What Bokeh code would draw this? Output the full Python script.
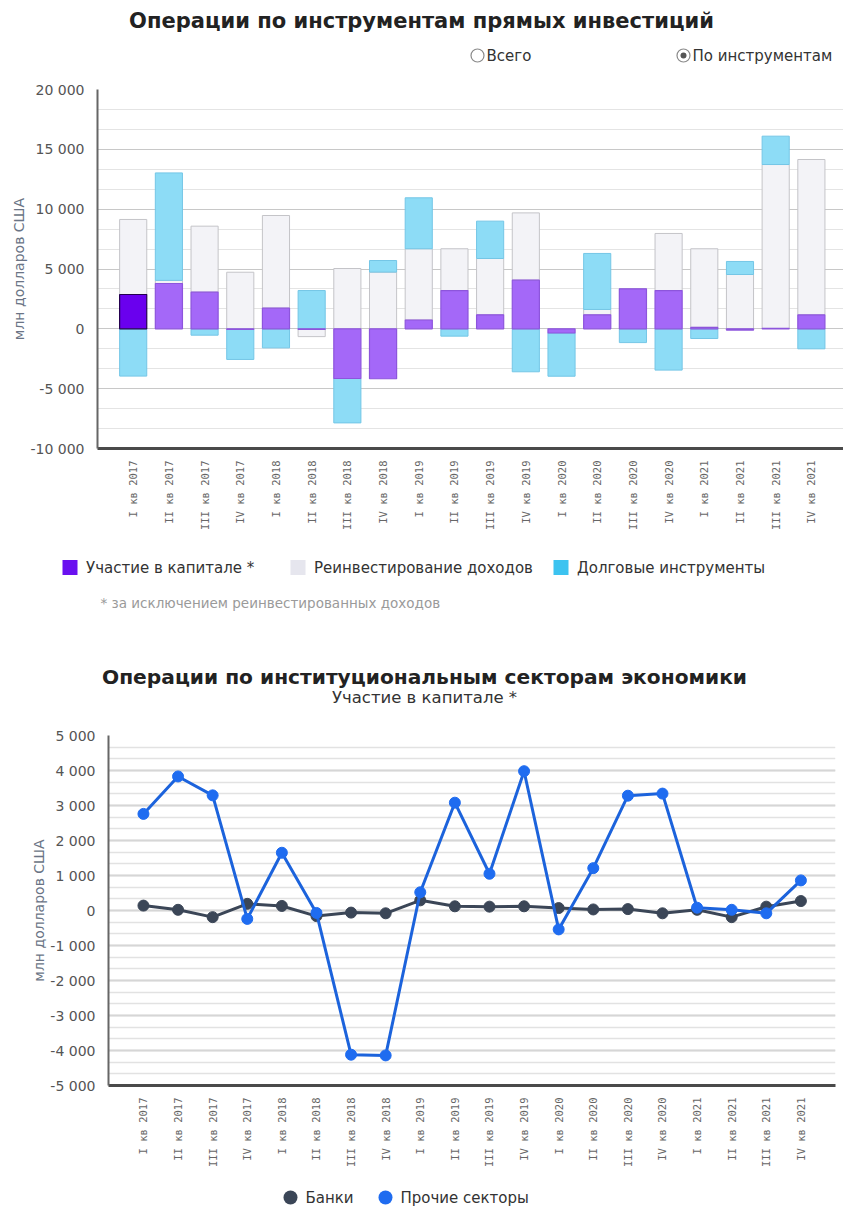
import math
from bokeh.plotting import figure
from bokeh.models import (Range1d, FixedTicker, CustomJSTickFormatter, ColumnDataSource)
from bokeh.layouts import column
from bokeh.embed import file_html
from bokeh.resources import INLINE
from bokeh.core.properties import value

# ---------------- data ----------------
quarters = ["I кв 2017", "II кв 2017", "III кв 2017", "IV кв 2017",
            "I кв 2018", "II кв 2018", "III кв 2018", "IV кв 2018",
            "I кв 2019", "II кв 2019", "III кв 2019", "IV кв 2019",
            "I кв 2020", "II кв 2020", "III кв 2020", "IV кв 2020",
            "I кв 2021", "II кв 2021", "III кв 2021", "IV кв 2021"]

equity = [2870, 3790, 3060, -50, 1730, -50, -4150, -4170, 740, 3200,
          1170, 4070, -350, 1170, 3340, 3200, 120, -100, 30, 1160]
reinvested = [6270, 260, 5520, 4730, 7740, -600, 5040, 4740, 5950, 3490,
              4710, 5620, 0, 450, 0, 4770, 6570, 4540, 13700, 12990]
debt = [-3950, 8980, -530, -2510, -1590, 3200, -3710, 970, 4260, -610,
        3120, -3590, -3610, 4680, -1150, -3450, -810, 1090, 2370, -1670]

banks = [140, 20, -190, 190, 130, -160, -60, -80, 290, 120,
         110, 120, 70, 30, 40, -80, 20, -190, 110, 270]
others = [2760, 3830, 3290, -240, 1650, -70, -4120, -4140, 520, 3080,
          1050, 3980, -540, 1210, 3280, 3340, 80, 20, -80, 860]

series_names = ["Участие в капитале *", "Реинвестирование доходов", "Долговые инструменты"]
line_names = ["Банки", "Прочие секторы"]
radio_labels = ["Всего", "По инструментам"]
title1 = "Операции по инструментам прямых инвестиций"
title2 = "Операции по институциональным секторам экономики"
subtitle2 = "Участие в капитале *"
footnote = "* за исключением реинвестированных доходов"
y_title = "млн долларов США"

FONT = "DejaVu Sans"
PAGE_W = 843
fmt = CustomJSTickFormatter(code="""
const s = Math.abs(tick).toFixed(0).replace(/\\B(?=(\\d{3})+(?!\\d))/g, ' ');
return (tick < 0 ? '-' : '') + s;
""")

xs = list(range(len(quarters)))


def blank_fig(h):
    """Figure without axes whose data space is page pixels (y downwards)."""
    p = figure(width=PAGE_W, height=h, x_range=Range1d(0, PAGE_W), y_range=Range1d(h, 0),
               output_backend="svg", toolbar_location=None, frame_align=False,
               x_axis_location=None, y_axis_location=None,
               min_border_left=0, min_border_right=0, min_border_top=0, min_border_bottom=0)
    p.grid.visible = False
    p.outline_line_color = None
    return p


def put_text(p, x, y, text, size, align="left", bold=False, color="#333333"):
    p.text(x=[x], y=[y], text=[text], text_font=value(FONT), text_font_size=value(size),
           text_font_style="bold" if bold else "normal", text_align=align,
           text_baseline="middle", text_color=color)


def style_axes(p, yticks, yminor, y_title_standoff):
    p.xaxis.ticker = FixedTicker(ticks=xs)
    p.xaxis.major_label_overrides = {i: q for i, q in zip(xs, quarters)}
    p.xaxis.major_label_orientation = math.pi / 2
    p.xaxis.major_label_text_font = "DejaVu Sans Mono"
    p.xaxis.major_label_text_font_size = "10.5px"
    p.xaxis.major_label_text_color = "#666666"
    p.xaxis.major_tick_line_color = None
    p.xaxis.minor_tick_line_color = None
    p.xaxis.axis_line_color = "#4a4a4a"
    p.xaxis.axis_line_width = 3
    p.xaxis.major_label_standoff = 6

    p.yaxis.ticker = FixedTicker(ticks=yticks, minor_ticks=yminor)
    p.yaxis.formatter = fmt
    p.yaxis.major_label_text_font = FONT
    p.yaxis.major_label_text_font_size = "14px"
    p.yaxis.major_label_text_color = "#555555"
    p.yaxis.major_tick_line_color = None
    p.yaxis.minor_tick_line_color = None
    p.yaxis.axis_line_color = "#666666"
    p.yaxis.axis_line_width = 2
    p.yaxis.major_label_standoff = 7
    p.yaxis.axis_label = y_title
    p.yaxis.axis_label_text_font = FONT
    p.yaxis.axis_label_text_font_style = "normal"
    p.yaxis.axis_label_text_font_size = "14px"
    p.yaxis.axis_label_text_color = "#6a7485"
    p.yaxis.axis_label_standoff = y_title_standoff
    p.xgrid.grid_line_color = None
    p.outline_line_color = None


# ---------------- header of chart 1 (page y 0..80) ----------------
head1 = blank_fig(80)
put_text(head1, 421, 20, title1, "21px", align="center", bold=True, color="#222222")
head1.scatter(x=[477, 683], y=[55, 55], size=13, marker="circle",
              fill_color="white", line_color="#8a8a8a", line_width=1.2)
head1.scatter(x=[683], y=[55], size=6, marker="circle", fill_color="#555555", line_color=None)
put_text(head1, 486, 55, radio_labels[0], "15px")
put_text(head1, 692, 55, radio_labels[1], "15px")

# ---------------- chart 1: stacked bars (page y 80..548) ----------------
X0, X1 = -1.0, 19.9
p1 = figure(width=PAGE_W, height=468, x_range=Range1d(X0, X1), y_range=Range1d(-10000, 20000),
            output_backend="svg", toolbar_location=None, frame_align=False,
            min_border_left=97, min_border_right=0, min_border_top=9, min_border_bottom=100)
style_axes(p1, list(range(-10000, 20001, 5000)),
           [-10000 + k * 5000 / 3 for k in range(19)], 0)
p1.ygrid.grid_line_color = "#c8c8c8"
p1.ygrid.grid_line_width = 1
p1.ygrid.minor_grid_line_color = "#e4e4e4"
p1.ygrid.minor_grid_line_width = 1

pos = [0.0] * len(xs)
neg = [0.0] * len(xs)
stacks = []
for vals in (equity, reinvested, debt):
    bot, top = [], []
    for i, v in enumerate(vals):
        if v >= 0:
            bot.append(pos[i]); top.append(pos[i] + v); pos[i] += v
        else:
            top.append(neg[i]); bot.append(neg[i] + v); neg[i] += v
    stacks.append((bot, top))

W = 0.76
eq_fill = ["#6a00ee"] + ["#a468f8"] * (len(xs) - 1)
eq_line = ["#24004f"] + ["#8d55dc"] * (len(xs) - 1)
src_eq = ColumnDataSource(dict(x=xs, bottom=stacks[0][0], top=stacks[0][1], fc=eq_fill, lc=eq_line))
src_re = ColumnDataSource(dict(x=xs, bottom=stacks[1][0], top=stacks[1][1]))
src_de = ColumnDataSource(dict(x=xs, bottom=stacks[2][0], top=stacks[2][1]))

p1.vbar(x="x", bottom="bottom", top="top", width=W, source=src_re,
        fill_color="#f3f3f7", line_color="#c4c4c8", line_width=1)
p1.vbar(x="x", bottom="bottom", top="top", width=W, source=src_de,
        fill_color="#8ddcf6", line_color="#74c6e6", line_width=1)
p1.vbar(x="x", bottom="bottom", top="top", width=W, source=src_eq,
        fill_color="fc", line_color="lc", line_width=1.2)

# ---------------- middle block (page y 548..726) ----------------
MID_H = 178
TOP_MID = 548
mid = blank_fig(MID_H)
leg_colors = ["#6a10f0", "#e6e6ee", "#3cc3f0"]
leg_x = [69.5, 297.5, 560.5]
ly = 567 - TOP_MID
mid.rect(x=leg_x, y=[ly] * 3, width=15, height=15, fill_color=leg_colors, line_color=None)
for name, lx in zip(series_names, leg_x):
    put_text(mid, lx + 16, ly, name, "15px")
put_text(mid, 100, 602 - TOP_MID, footnote, "13.5px", color="#9a9a9a")
put_text(mid, 424, 676 - TOP_MID, title2, "20.2px", align="center", bold=True, color="#222222")
put_text(mid, 424, 697 - TOP_MID, subtitle2, "16.5px", align="center", color="#333333")

# ---------------- chart 2: lines (page y 726..1170) ----------------
B0, B1 = -1.01, 20.0
p2 = figure(width=PAGE_W, height=444, x_range=Range1d(B0, B1), y_range=Range1d(-5000, 5000),
            output_backend="svg", toolbar_location=None, frame_align=False,
            min_border_left=108, min_border_right=8, min_border_top=9, min_border_bottom=85)
style_axes(p2, list(range(-5000, 5001, 1000)),
           [-5000 + k * 1000 / 3 for k in range(31)], 0)
p2.ygrid.grid_line_color = "#d6d6d6"
p2.ygrid.grid_line_width = 2
p2.ygrid.minor_grid_line_color = "#e2e2e2"
p2.ygrid.minor_grid_line_width = 1.5

C_BANK = "#3b4657"
C_OTH = "#1c63dc"
C_OTH_M = "#1f6cf0"
src2 = ColumnDataSource(dict(x=xs, banks=banks, others=others))
p2.line(x="x", y="banks", source=src2, line_color=C_BANK, line_width=3)
p2.scatter(x="x", y="banks", source=src2, size=11, fill_color=C_BANK, line_color=C_BANK)
p2.line(x="x", y="others", source=src2, line_color=C_OTH, line_width=3)
p2.scatter(x="x", y="others", source=src2, size=11, fill_color=C_OTH_M, line_color=C_OTH_M)

# ---------------- footer with legend (page y 1170..1206) ----------------
FOOT_H = 36
foot = blank_fig(FOOT_H)
fy = 1197 - 1170
foot.scatter(x=[290, 385], y=[fy, fy], size=14, marker="circle",
             fill_color=[C_BANK, C_OTH_M], line_color=None)
put_text(foot, 305, fy, line_names[0], "15px")
put_text(foot, 400, fy, line_names[1], "15px")

layout = column(head1, p1, mid, p2, foot, spacing=0)
open("out.html", "w").write(file_html(layout, INLINE))
